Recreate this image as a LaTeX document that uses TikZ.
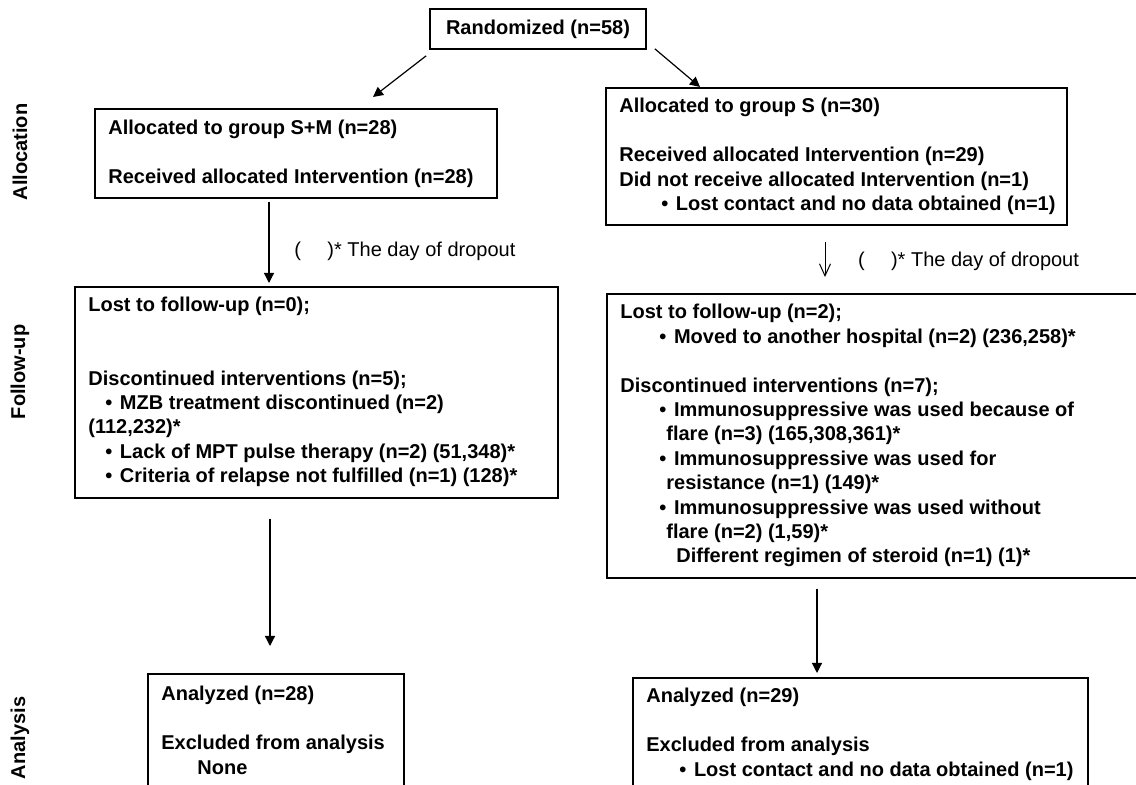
\documentclass[tikz,border=0pt]{standalone}
\usepackage{fontspec}
\setmainfont{Liberation Sans}
\usetikzlibrary{arrows.meta}
% bullet with its own indent
\newcommand{\bul}[1]{\hspace*{#1}•\hspace{3.8pt}}

\begin{document}
\begin{tikzpicture}[x=0.5pt,y=-0.5pt,
    box/.style={draw,line width=0.8pt,inner sep=0pt,anchor=north west},
    txt/.style={inner sep=0pt,anchor=base west,font=\bfseries\fontsize{10}{12.2}\selectfont},
    note/.style={inner sep=0pt,anchor=base west,font=\fontsize{10}{12}\selectfont},
    phase/.style={rotate=90,inner sep=0pt,font=\bfseries\fontsize{10}{12}\selectfont},
    arr/.style={line width=0.6pt,-{Triangle[length=5pt,width=5pt]}},
    arrthin/.style={line width=0.5pt,-{Straight Barb[length=6pt,width=5.5pt]}}]

    \clip (0,0) rectangle (1136,785);

    % Boxes
    \node[box,anchor=center,minimum width=108pt,minimum height=20pt,
          font=\bfseries\fontsize{10}{12}\selectfont] (rand) at (538,29) {Randomized (n=58)};
    \node[box,minimum width=201pt,minimum height=44.5pt] (allocSM) at (94,108) {};
    \node[box,minimum width=230.5pt,minimum height=68.5pt] (allocS) at (605,87) {};
    \node[box,minimum width=241.5pt,minimum height=105.5pt] (followSM) at (74,286) {};
    \node[box,minimum width=277pt,minimum height=142pt] (followS) at (606,293) {};
    \node[box,minimum width=128pt,minimum height=113.5pt] (anaSM) at (147,673) {};
    \node[box,minimum width=227.5pt,minimum height=111.5pt] (anaS) at (632,677) {};

    % Texts in the boxes
    \node[txt] (allocSMtext) at (108,135) {\begin{tabular}[t]{@{}l@{}}
        Allocated to group S+M (n=28)\\ \\
        Received allocated Intervention (n=28)
    \end{tabular}};
    \node[txt] (allocStext) at (619,113) {\begin{tabular}[t]{@{}l@{}}
        Allocated to group S (n=30)\\ \\
        Received allocated Intervention (n=29)\\
        Did not receive allocated Intervention (n=1)\\
        \bul{21pt}Lost contact and no data obtained (n=1)
    \end{tabular}};
    \node[txt] (followSMtext) at (88,312) {\begin{tabular}[t]{@{}l@{}}
        Lost to follow-up (n=0);\\ \\ \\
        Discontinued interventions (n=5);\\
        \bul{8.5pt}MZB treatment discontinued (n=2)\\
        (112,232)*\\
        \bul{8.5pt}Lack of MPT pulse therapy (n=2) (51,348)*\\
        \bul{8.5pt}Criteria of relapse not fulfilled (n=1) (128)*
    \end{tabular}};
    \node[txt] (followStext) at (620,319) {\begin{tabular}[t]{@{}l@{}}
        Lost to follow-up (n=2);\\
        \bul{19.5pt}Moved to another hospital (n=2) (236,258)*\\ \\
        Discontinued interventions (n=7);\\
        \bul{19.5pt}Immunosuppressive was used because of\\
        \hspace*{23pt}flare (n=3) (165,308,361)*\\
        \bul{19.5pt}Immunosuppressive was used for\\
        \hspace*{23pt}resistance (n=1) (149)*\\
        \bul{19.5pt}Immunosuppressive was used without\\
        \hspace*{23pt}flare (n=2) (1,59)*\\
        \hspace*{28pt}Different regimen of steroid (n=1) (1)*
    \end{tabular}};
    \node[txt] (anaSMtext) at (161,701) {\begin{tabular}[t]{@{}l@{}}
        Analyzed (n=28)\\ \\
        Excluded from analysis\\
        \hspace*{18pt}None
    \end{tabular}};
    \node[txt] (anaStext) at (646,703) {\begin{tabular}[t]{@{}l@{}}
        Analyzed (n=29)\\ \\
        Excluded from analysis\\
        \bul{16.5pt}Lost contact and no data obtained (n=1)
    \end{tabular}};

    % Notes next to the arrows
    \node[note] (noteSM) at (294,257) {(\hspace{13.2pt})* The day of dropout};
    \node[note] (noteS) at (857.6,267) {(\hspace{13.2pt})* The day of dropout};

    % Phase labels
    \node[phase] (allocation) at (20,152) {Allocation};
    \node[phase] (followup) at (20,372) {Follow-up};
    \node[phase] (analysis) at (20,738) {Analysis};

    % Arrows
    \draw[arr] ([shift={(-3,6)}]rand.south west) -- ([shift={(279,-11)}]allocSM.north west);
    \draw[arr] ([shift={(8,-1)}]rand.south east) -- ([shift={(95,0)}]allocS.north west);
    \draw[arr] ([shift={(175,3)}]allocSM.south west) -- ([shift={(195,-3)}]followSM.north west);
    \draw[arrthin] ([shift={(220,16)}]allocS.south west) -- ([shift={(219,-16)}]followS.north west);
    \draw[arr] ([shift={(196,20)}]followSM.south west) -- ([shift={(123,-27)}]anaSM.north west);
    \draw[arr] ([shift={(211,10)}]followS.south west) -- ([shift={(185,-4)}]anaS.north west);
\end{tikzpicture}
\end{document}
